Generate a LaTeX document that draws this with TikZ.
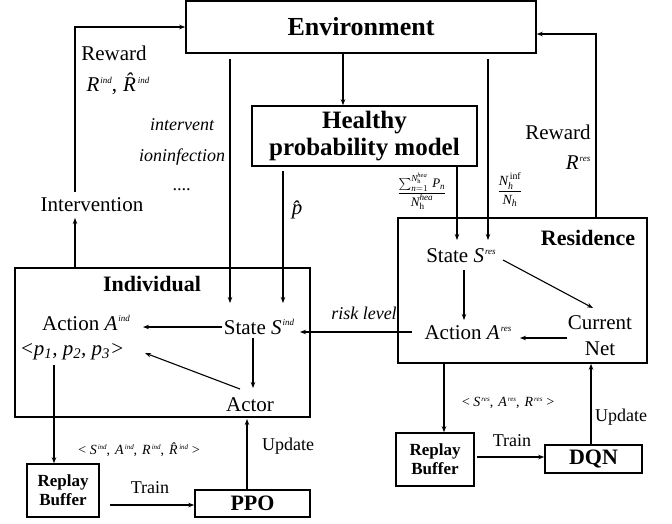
\documentclass[tikz,border=0pt]{standalone}
\usepackage{amsmath}
\usepackage{fontspec}
\setmainfont{Liberation Serif}
\usetikzlibrary{arrows.meta}
\newcommand{\mi}[1]{\text{\itshape #1}}
\newcommand{\hatl}[1]{{\itshape #1\char"0302\relax}}
\newcommand{\vs}[2]{{\itshape #1\/}\kern1pt\raisebox{0.85ex}{\fontsize{9}{9}\selectfont\itshape #2}}
\newcommand{\vh}[2]{\hatl{#1}\kern2pt\raisebox{0.85ex}{\fontsize{9}{9}\selectfont\itshape #2}}
\newcommand{\vsm}[2]{{\itshape #1\/}\kern1pt\raisebox{0.8ex}{\fontsize{7}{7}\selectfont\itshape #2}}
\newcommand{\vhm}[2]{\hatl{#1}\kern1.5pt\raisebox{0.8ex}{\fontsize{7}{7}\selectfont\itshape #2}}
\tikzset{
  box/.style={draw, line width=1.6pt, inner sep=0pt},
  arr/.style={line width=1.1pt, -{Stealth[length=6pt,width=4.5pt]}},
  txt/.style={inner sep=1pt, font=\fontsize{21}{24}\selectfont},
  lbl/.style={inner sep=1pt, font=\fontsize{18}{20}\selectfont\itshape},
  small/.style={inner sep=1pt, font=\fontsize{14}{16}\selectfont},
}
\begin{document}
\begin{tikzpicture}[x=1pt,y=-1pt]
\useasboundingbox[fill=white] (0,0) rectangle (672,523);
% boxes
\node[box, minimum width=350pt, minimum height=52pt] (env) at (361,27) {\fontsize{26}{26}\selectfont\bfseries Environment};
\node[box, minimum width=225pt, minimum height=60pt, align=center, font=\fontsize{25}{27}\selectfont\bfseries] (hpm) at (364.5,136) {Healthy\\probability model};
\node[box, minimum width=295pt, minimum height=149pt] (ind) at (162.5,342.5) {};
\node[box, minimum width=249pt, minimum height=145pt] (res) at (522.5,290.5) {};
\node[box, minimum width=72pt, minimum height=53pt, align=center, font=\fontsize{17}{19}\selectfont\bfseries] (rbl) at (63,490.5) {Replay\\Buffer};
\node[box, minimum width=115pt, minimum height=27pt, font=\fontsize{22}{22}\selectfont\bfseries] (ppo) at (252.5,503.5) {PPO};
\node[box, minimum width=78pt, minimum height=53pt, align=center, font=\fontsize{17}{19}\selectfont\bfseries] (rbr) at (435,459.5) {Replay\\Buffer};
\node[box, minimum width=97pt, minimum height=28pt, font=\fontsize{22}{22}\selectfont\bfseries] (dqn) at (593.5,459) {DQN};
% titles
\node[txt, font=\fontsize{22}{22}\selectfont\bfseries] (indt) at (152,284) {Individual};
\node[txt, font=\fontsize{22}{22}\selectfont\bfseries] (rest) at (588,238) {Residence};
% inner nodes
\node[txt] (interv) at (92,205) {Intervention};
\node[txt] (actind) at (86,323) {Action \vs{A}{ind}};
\node[txt] (pind) at (72,352) {\textit{<p\textsubscript{1}, p\textsubscript{2}, p\textsubscript{3}>}};
\node[txt] (stind) at (259,327) {State \vs{S}{ind}};
\node[txt] (actor) at (250,405) {Actor};
\node[txt] (stres) at (461,256) {State \vs{S}{res}};
\node[txt] (actres) at (468,333) {Action \vs{A}{res}};
\node[txt, align=center, font=\fontsize{21}{26}\selectfont] (curnet) at (600,336) {Current\\Net};
% coordinates for vertical lines
\coordinate (rw) at (75,0);
\coordinate (xa) at (230,0);
\coordinate (xp) at (283,0);
\coordinate (xe) at (343,0);
\coordinate (xf) at (457,0);
\coordinate (xn) at (488,0);
\coordinate (xr) at (596,0);
% connectors
\draw[arr] (ind.north -| rw) -- (rw |- 0,218);
\draw[arr] (rw |- 0,192) -- (rw |- env.west) -- (env.west);
\draw[arr] ([yshift=-5pt]env.south -| xa) -- (xa |- 0,303);
\draw[arr] ([yshift=-4pt]hpm.south -| xp) -- (xp |- 0,303);
\draw[arr] (env.south -| xe) -- (hpm.north -| xe);
\draw[arr] (hpm.south -| xf) -- (xf |- 0,240);
\draw[arr] ([yshift=-5pt]env.south -| xn) -- (xn |- 0,240);
\draw[arr] (res.north -| xr) -- (xr |- 0,34) -- (env.east |- 0,34);
\draw[arr] (464,270) -- (464,320);
\draw[arr] (503,260) -- (593,308);
\draw[arr] (567,338) -- (520,338);
\draw[arr] (412,332) -- (300,332);
\draw[arr] (222,327) -- (143,327);
\draw[arr] (240,389) -- (145,353);
\draw[arr] (253,338) -- (253,388);
\draw[arr] (54,365) -- (rbl.north -| 54,0);
\draw[arr] ([xshift=10pt]rbl.east |- 0,505) -- (ppo.west |- 0,505);
\draw[arr] (ppo.north -| 247,0) -- (247,419);
\draw[arr] (res.south -| 444,0) -- (rbr.north -| 444,0);
\draw[arr] ([xshift=2pt]rbr.east |- 0,457) -- (dqn.west |- 0,457);
\draw[arr] (dqn.north -| 591,0) -- (res.south -| 591,0);
% labels
\node[txt] (rwl) at (114,53) {Reward};
\node[txt] (rwv) at (118,84) {\vs{R}{ind},\kern6pt\vh{R}{ind}};
\node[lbl] (l1) at (182,125) {intervent};
\node[lbl] (l2) at (182,157) {ioninfection};
\node[lbl] (l3) at (182,190) {....};
\node[txt] (phat) at (297,210) {\hatl{p}};
\node[inner sep=0pt] (frac1) at (422,191) {\fontsize{13}{13}\selectfont$\displaystyle\frac{\sum\nolimits_{\mi{n}=1}^{\mi{N}_\mathrm{h}^{\mi{hea}}}\,\mi{P}_{\mi{n}}}{\mi{N}_\mathrm{h}^{\mi{hea}}}$};
\node[inner sep=0pt] (frac2) at (510,190) {\fontsize{14}{14}\selectfont$\displaystyle\frac{\mi{N}_{\mi{h}}^{\,\mathrm{inf}}}{\mi{N}_{\mi{h}}}$};
\node[txt] (rwr) at (558,132) {Reward};
\node[txt] (rwrv) at (578,163) {\vs{R}{res}};
\node[lbl] (risk) at (364,313) {risk level};
\node[small] (tind) at (139,450) {\textit{<}\kern3pt\vsm{S}{ind},\kern5pt\vsm{A}{ind},\kern5pt\vsm{R}{ind},\kern5pt\vhm{R}{ind}\kern3pt\textit{>}};
\node[small] (tres) at (508,403) {\textit{<}\kern3pt\vsm{S}{res},\kern5pt\vsm{A}{res},\kern5pt\vsm{R}{res}\kern3pt\textit{>}};
\node[txt, font=\fontsize{18}{18}\selectfont] (trl) at (150,488) {Train};
\node[txt, font=\fontsize{18}{18}\selectfont] (upl) at (288,446) {Update};
\node[txt, font=\fontsize{18}{18}\selectfont] (trr) at (512,441) {Train};
\node[txt, font=\fontsize{18}{18}\selectfont] (upr) at (621,417) {Update};
\end{tikzpicture}
\end{document}
